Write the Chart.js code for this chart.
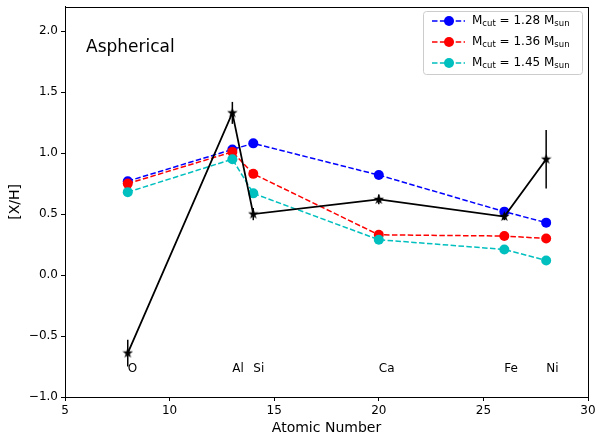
<!DOCTYPE html>
<html>
<head>
<meta charset="utf-8">
<script src="https://cdn.jsdelivr.net/npm/chart.js@4/dist/chart.umd.min.js"></script>
<style>
  html, body { margin: 0; padding: 0; background: #fff; }
  canvas { display: block; }
</style>
</head>
<body>
<canvas id="abund" width="597" height="440"></canvas>
<script>
// atomic numbers and element names
var atomicNumbers = [8, 13, 14, 20, 26, 28]
var elements = ['O', 'Al', 'Si', 'Ca', 'Fe', 'Ni']

// model abundances for the three cut masses
var mcut128 = [0.77, 1.03, 1.08, 0.82, 0.52, 0.43]
var mcut136 = [0.75, 1.01, 0.83, 0.33, 0.32, 0.30]
var mcut145 = [0.68, 0.95, 0.67, 0.29, 0.21, 0.12]

// observed abundances with errors
var observed = [-0.64, 1.33, 0.50, 0.62, 0.48, 0.95]
var observedErr = [0.11, 0.09, 0.05, 0.04, 0.03, 0.24]

var cutMasses = ['1.28', '1.36', '1.45']
var xTicks = [5, 10, 15, 20, 25, 30]
var yTicks = [-1.0, -0.5, 0.0, 0.5, 1.0, 1.5, 2.0]
var labelY = -0.77

var FONT = 'DejaVu Sans'

function points(ys) {
  return atomicNumbers.map(function (x, i) { return {x: x, y: ys[i]} })
}

// filled five-pointed star used as the marker of the observed data
function starMarker(size) {
  var c = document.createElement('canvas')
  c.width = size
  c.height = size
  var g = c.getContext('2d')
  var r = size / 2, ri = r * 0.4
  g.beginPath()
  for (var k = 0; k < 10; k++) {
    var a = -Math.PI / 2 + k * Math.PI / 5
    var rr = k % 2 === 0 ? r : ri
    g.lineTo(r + rr * Math.cos(a), r + rr * Math.sin(a))
  }
  g.closePath()
  g.fillStyle = '#000'
  g.fill()
  return c
}

function modelSet(ys, color, order) {
  return {
    data: points(ys),
    borderColor: color,
    backgroundColor: color,
    borderWidth: 1.5,
    borderDash: [5.5, 2.4],
    pointRadius: 5,
    pointHoverRadius: 5,
    pointBorderWidth: 0,
    order: order
  }
}

var frameAndText = {
  id: 'frameAndText',
  afterDatasetsDraw: function (chart) {
    var ctx = chart.ctx
    var xs = chart.scales.x, ys = chart.scales.y
    var area = chart.chartArea

    // error bars
    ctx.save()
    ctx.strokeStyle = '#000'
    ctx.lineWidth = 1.5
    observed.forEach(function (v, i) {
      var px = xs.getPixelForValue(atomicNumbers[i])
      ctx.beginPath()
      ctx.moveTo(px, ys.getPixelForValue(v - observedErr[i]))
      ctx.lineTo(px, ys.getPixelForValue(v + observedErr[i]))
      ctx.stroke()
    })
    ctx.restore()

    // element names
    ctx.save()
    ctx.fillStyle = '#000'
    ctx.font = '12px "' + FONT + '"'
    ctx.textAlign = 'left'
    ctx.textBaseline = 'middle'
    elements.forEach(function (name, i) {
      ctx.fillText(name, xs.getPixelForValue(atomicNumbers[i]), ys.getPixelForValue(labelY))
    })

    // panel label
    ctx.font = '17px "' + FONT + '"'
    ctx.fillText('Aspherical', area.left + 21, 48)

    // axis titles
    ctx.font = '14px "' + FONT + '"'
    ctx.textAlign = 'center'
    ctx.fillText('Atomic Number', (area.left + area.right) / 2, 428)
    ctx.save()
    ctx.translate(15, (area.top + area.bottom) / 2)
    ctx.rotate(-Math.PI / 2)
    ctx.fillText('[X/H]', 0, 0)
    ctx.restore()

    // frame
    ctx.strokeStyle = '#000'
    ctx.lineWidth = 1
    ctx.strokeRect(Math.round(area.left) + 0.5, Math.round(area.top) + 0.5,
      Math.round(area.right - area.left), Math.round(area.bottom - area.top))

    // legend
    var bx = 423, by = 11, bw = 159, bh = 63
    ctx.beginPath()
    ctx.roundRect(bx + 0.5, by + 0.5, bw, bh, 3)
    ctx.fillStyle = 'rgba(255,255,255,0.8)'
    ctx.fill()
    ctx.strokeStyle = '#cccccc'
    ctx.stroke()
    var colors = ['#0000ff', '#ff0000', '#00bfbf']
    colors.forEach(function (col, i) {
      var ry = 21 + i * 21
      ctx.strokeStyle = col
      ctx.lineWidth = 1.5
      ctx.setLineDash([5.5, 2.4])
      ctx.beginPath()
      ctx.moveTo(432, ry)
      ctx.lineTo(465, ry)
      ctx.stroke()
      ctx.setLineDash([])
      ctx.fillStyle = col
      ctx.beginPath()
      ctx.arc(449, ry, 5, 0, Math.PI * 2)
      ctx.fill()

      ctx.fillStyle = '#000'
      ctx.textAlign = 'left'
      ctx.textBaseline = 'middle'
      var tx = 472
      ctx.font = '12px "' + FONT + '"'
      ctx.fillText('M', tx, ry)
      tx += ctx.measureText('M').width
      ctx.font = '8.5px "' + FONT + '"'
      ctx.fillText('cut', tx, ry + 3)
      tx += ctx.measureText('cut').width
      ctx.font = '12px "' + FONT + '"'
      var mid = ' = ' + cutMasses[i] + ' M'
      ctx.fillText(mid, tx, ry)
      tx += ctx.measureText(mid).width
      ctx.font = '8.5px "' + FONT + '"'
      ctx.fillText('sun', tx, ry + 3)
    })
    ctx.restore()
  }
}

function axisStyle() {
  return {
    grid: {drawOnChartArea: false, drawTicks: true, tickLength: 4, color: '#000'},
    border: {display: true, color: '#000', width: 1},
    ticks: {color: '#000', font: {family: FONT, size: 12}, padding: 3, maxRotation: 0, autoSkip: false}
  }
}

var xAxis = axisStyle()
xAxis.type = 'linear'
xAxis.min = 5
xAxis.max = 30
xAxis.afterBuildTicks = function (s) { s.ticks = xTicks.map(function (v) { return {value: v} }) }
xAxis.afterFit = function (s) { s.height = 43; s.paddingLeft = 0; s.paddingRight = 0 }
xAxis.ticks.callback = function (v) { return String(v) }

var yAxis = axisStyle()
yAxis.type = 'linear'
yAxis.min = -1.0
yAxis.max = 2.2
yAxis.afterBuildTicks = function (s) { s.ticks = yTicks.map(function (v) { return {value: v} }) }
yAxis.afterFit = function (s) { s.width = 65; s.paddingTop = 0; s.paddingBottom = 0 }
yAxis.ticks.callback = function (v) { return (v < 0 ? '\u2212' : '') + Math.abs(v).toFixed(1) }

new Chart(document.getElementById('abund').getContext('2d'), {
  type: 'line',
  data: {
    datasets: [
      {
        data: points(observed),
        borderColor: '#000',
        backgroundColor: '#000',
        borderWidth: 1.8,
        pointStyle: starMarker(11),
        pointRadius: 5,
        order: 0
      },
      modelSet(mcut145, '#00bfbf', 1),
      modelSet(mcut136, '#ff0000', 2),
      modelSet(mcut128, '#0000ff', 3)
    ]
  },
  options: {
    responsive: false,
    animation: false,
    layout: {padding: {top: 5.5, right: 9, left: 0, bottom: 0}},
    plugins: {legend: {display: false}, tooltip: {enabled: false}},
    scales: {x: xAxis, y: yAxis}
  },
  plugins: [frameAndText]
})
</script>
</body>
</html>
